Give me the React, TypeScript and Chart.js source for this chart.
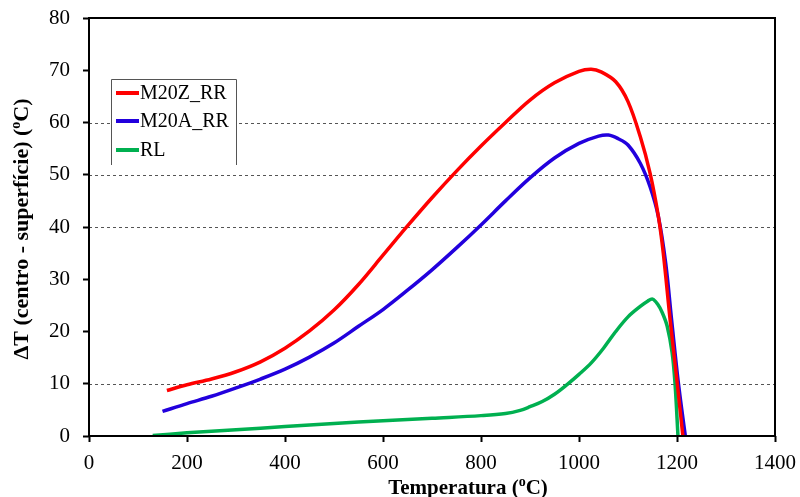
import React, { useEffect, useRef } from "react";
import { Chart, registerables } from "chart.js";
Chart.register(...registerables);

const seriesNames = ["M20Z_RR", "M20A_RR", "RL"];
const seriesColors = ["#ff0000", "#2200dd", "#00b050"];

const redX = [159, 200, 250, 300, 350, 400, 450, 500, 550, 600, 650, 700, 750, 800, 850, 900, 950, 1000, 1025, 1045, 1075, 1100, 1125, 1145, 1162, 1172, 1186, 1200, 1212];
const redY = [8.7, 9.8, 10.9, 12.3, 14.2, 16.8, 20.1, 24.1, 29.0, 34.6, 40.2, 45.6, 50.7, 55.5, 60.0, 64.3, 67.6, 69.8, 70.2, 69.7, 67.8, 64.0, 57.3, 50.3, 42.0, 35.0, 22.2, 10.5, 0];

const blueX = [150, 200, 250, 300, 350, 400, 450, 500, 550, 600, 650, 700, 750, 800, 850, 900, 950, 1000, 1040, 1060, 1080, 1100, 1125, 1145, 1162, 1177, 1189, 1203, 1217];
const blueY = [4.7, 6.2, 7.6, 9.2, 10.9, 12.8, 15.1, 17.8, 21.0, 24.2, 27.9, 31.8, 36.0, 40.4, 45.0, 49.4, 53.2, 56.0, 57.4, 57.6, 56.9, 55.7, 52.2, 47.7, 42.0, 33.0, 22.2, 10.0, 0];

const greenX = [130, 200, 300, 400, 500, 600, 700, 800, 850, 880, 900, 925, 950, 975, 1000, 1025, 1050, 1075, 1100, 1125, 1140, 1150, 1160, 1170, 1180, 1190, 1196, 1202];
const greenY = [0.1, 0.6, 1.2, 1.8, 2.4, 2.9, 3.4, 3.9, 4.3, 4.9, 5.6, 6.6, 8.0, 9.8, 11.8, 14.0, 16.8, 20.0, 22.8, 24.8, 25.8, 26.2, 25.3, 23.6, 21.0, 16.0, 10.0, 0];

const xTickValues = [0, 200, 400, 600, 800, 1000, 1200, 1400];
const yTickValues = [0, 10, 20, 30, 40, 50, 60, 70, 80];
const gridValues = [10, 40, 50, 60];

const xTitleMain = "Temperatura (";
const yTitleMain = "\u0394T (centro - superfície) (";
const titleSup = "o";
const titleEnd = "C)";

const FONT = "'Liberation Serif', 'Times New Roman', serif";

function toPoints(xs: number[], ys: number[]) {
  return xs.map((x, i) => ({ x, y: ys[i] }));
}

function drawSupTitle(ctx: CanvasRenderingContext2D, main: string, cx: number, size: number) {
  const sup = Math.round(size * 0.65);
  ctx.font = `bold ${size}px ${FONT}`;
  const w1 = ctx.measureText(main).width;
  const w3 = ctx.measureText(titleEnd).width;
  ctx.font = `bold ${sup}px ${FONT}`;
  const w2 = ctx.measureText(titleSup).width;
  const total = w1 + w2 + w3;
  let x = cx - total / 2;
  ctx.textAlign = "left";
  ctx.textBaseline = "alphabetic";
  ctx.font = `bold ${size}px ${FONT}`;
  ctx.fillText(main, x, 0);
  x += w1;
  ctx.font = `bold ${sup}px ${FONT}`;
  ctx.fillText(titleSup, x, -size * 0.36);
  x += w2;
  ctx.font = `bold ${size}px ${FONT}`;
  ctx.fillText(titleEnd, x, 0);
}

const customPlugin = {
  id: "custom",
  beforeDatasetsDraw(chart: any) {
    const { ctx, chartArea, scales } = chart;
    ctx.save();
    ctx.strokeStyle = "#555555";
    ctx.lineWidth = 1;
    ctx.setLineDash([3, 3]);
    gridValues.forEach((v) => {
      const y = Math.round(scales.y.getPixelForValue(v)) + 0.5;
      ctx.beginPath();
      ctx.moveTo(chartArea.left, y);
      ctx.lineTo(chartArea.right, y);
      ctx.stroke();
    });
    ctx.restore();
  },
  afterDatasetsDraw(chart: any) {
    const { ctx, chartArea } = chart;
    ctx.save();
    ctx.strokeStyle = "#000";
    ctx.lineWidth = 2;
    ctx.strokeRect(chartArea.left, chartArea.top, chartArea.right - chartArea.left, chartArea.bottom - chartArea.top);

    // legend
    const lx = 111, ly = 79, lw = 125, lh = 86;
    ctx.fillStyle = "#fff";
    ctx.fillRect(lx, ly, lw, lh);
    ctx.strokeStyle = "#555";
    ctx.lineWidth = 1;
    ctx.beginPath();
    ctx.moveTo(lx + 0.5, ly + lh);
    ctx.lineTo(lx + 0.5, ly + 0.5);
    ctx.lineTo(lx + lw + 0.5, ly + 0.5);
    ctx.lineTo(lx + lw + 0.5, ly + lh);
    ctx.stroke();
    const rows = [93, 121, 150];
    seriesNames.forEach((name, i) => {
      ctx.strokeStyle = seriesColors[i];
      ctx.lineWidth = 4;
      ctx.beginPath();
      ctx.moveTo(116, rows[i]);
      ctx.lineTo(139, rows[i]);
      ctx.stroke();
      ctx.fillStyle = "#000";
      ctx.font = `20px ${FONT}`;
      ctx.textAlign = "left";
      ctx.textBaseline = "middle";
      ctx.fillText(name, 140, rows[i] + 1);
    });

    // titles
    ctx.fillStyle = "#000";
    ctx.save();
    ctx.translate(0, 494);
    drawSupTitle(ctx, xTitleMain, 468, 21);
    ctx.restore();
    ctx.save();
    ctx.translate(28, 0);
    ctx.rotate(-Math.PI / 2);
    drawSupTitle(ctx, yTitleMain, -229, 22);
    ctx.restore();
    ctx.restore();
  },
};

export default function App() {
  const ref = useRef<HTMLCanvasElement | null>(null);
  useEffect(() => {
    document.body.style.margin = "0";
    const canvas = ref.current!;
    const mk = (i: number, xs: number[], ys: number[]) => ({
      label: seriesNames[i],
      data: toPoints(xs, ys),
      borderColor: seriesColors[i],
      backgroundColor: seriesColors[i],
      borderWidth: 3.5,
      pointRadius: 0,
      tension: 0.35,
      fill: false,
    });
    const chart = new Chart(canvas, {
      type: "line",
      data: {
        datasets: [mk(0, redX, redY), mk(1, blueX, blueY), mk(2, greenX, greenY)],
      },
      options: {
        animation: false,
        responsive: false,
        layout: { padding: { left: 0, right: 25, top: 18, bottom: 0 } },
        plugins: { legend: { display: false }, tooltip: { enabled: false } },
        scales: {
          x: {
            type: "linear",
            min: 0,
            max: 1400,
            afterBuildTicks: (s: any) => {
              s.ticks = xTickValues.map((v) => ({ value: v }));
            },
            afterFit: (s: any) => {
              s.height = 61;
              s.paddingLeft = 0;
              s.paddingRight = 0;
            },
            ticks: { color: "#000", font: { family: FONT, size: 21 }, padding: 9, maxRotation: 0, callback: (v: any) => String(v) },
            grid: { drawOnChartArea: false, drawTicks: true, tickLength: 6, tickColor: "#000", tickWidth: 2 },
            border: { display: false },
          },
          y: {
            type: "linear",
            min: 0,
            max: 80,
            afterBuildTicks: (s: any) => {
              s.ticks = yTickValues.map((v) => ({ value: v }));
            },
            afterFit: (s: any) => {
              s.width = 89;
              s.paddingTop = 0;
              s.paddingBottom = 0;
            },
            ticks: { color: "#000", font: { family: FONT, size: 21 }, padding: 13, callback: (v: any) => String(v) },
            grid: { drawOnChartArea: false, drawTicks: true, tickLength: 6, tickColor: "#000", tickWidth: 2 },
            border: { display: false },
          },
        },
      },
      plugins: [customPlugin],
    } as any);
    return () => chart.destroy();
  }, []);
  return <canvas ref={ref} width={800} height={497} style={{ display: "block" }} />;
}
